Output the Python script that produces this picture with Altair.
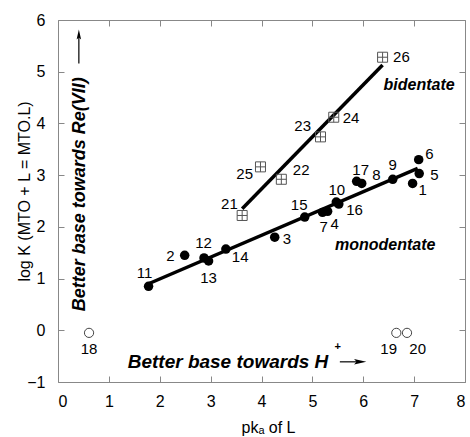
import altair as alt
import pandas as pd

FONT = "Liberation Sans"

# ---- data ----
mono_id = [1, 2, 3, 4, 5, 6, 7, 8, 9, 10, 11, 12, 13, 14, 15, 16, 17]
mono_x = [6.97, 2.49, 4.26, 5.30, 7.10, 7.09, 5.20, 5.97, 6.58, 5.47, 1.78, 2.87, 2.96, 3.30, 4.85, 5.52, 5.87]
mono_y = [2.84, 1.45, 1.80, 2.30, 3.03, 3.30, 2.28, 2.84, 2.92, 2.48, 0.85, 1.40, 1.34, 1.57, 2.19, 2.44, 2.88]
mono_lx = [7.17, 2.21, 4.50, 5.44, 7.40, 7.30, 5.22, 6.26, 6.58, 5.48, 1.70, 2.86, 2.96, 3.58, 4.74, 5.83, 5.95]
mono_ly = [2.71, 1.43, 1.77, 2.06, 3.00, 3.40, 2.00, 3.00, 3.20, 2.72, 1.11, 1.68, 1.02, 1.42, 2.43, 2.32, 3.09]

open_id = [18, 19, 20]
open_x = [0.61, 6.65, 6.86]
open_y = [-0.05, -0.05, -0.05]
open_lx = [0.61, 6.50, 7.07]
open_ly = [-0.37, -0.37, -0.37]

bi_id = [21, 22, 23, 24, 25, 26]
bi_x = [3.62, 4.39, 5.16, 5.42, 3.98, 6.38]
bi_y = [2.22, 2.92, 3.74, 4.12, 3.16, 5.28]
bi_lx = [3.37, 4.78, 4.81, 5.76, 3.67, 6.75]
bi_ly = [2.45, 3.09, 3.95, 4.11, 3.02, 5.28]

mono_fit_x = [1.78, 7.07]
mono_fit_y = [0.90, 3.13]
bi_fit_x = [3.62, 6.38]
bi_fit_y = [2.35, 5.13]

x_ticks = [0, 1, 2, 3, 4, 5, 6, 7, 8]
y_ticks = [-1, 0, 1, 2, 3, 4, 5, 6]

# ---- tables ----
mono = pd.DataFrame({"id": mono_id, "x": mono_x, "y": mono_y, "lx": mono_lx, "ly": mono_ly})
opn = pd.DataFrame({"id": open_id, "x": open_x, "y": open_y, "lx": open_lx, "ly": open_ly})
bi = pd.DataFrame({"id": bi_id, "x": bi_x, "y": bi_y, "lx": bi_lx, "ly": bi_ly})
labels = pd.concat([mono, opn, bi])
fits = pd.DataFrame({
    "x": mono_fit_x + bi_fit_x,
    "y": mono_fit_y + bi_fit_y,
    "g": ["mono", "mono", "bi", "bi"],
})

xs = alt.Scale(domain=[0, 8], nice=False, zero=False)
ys = alt.Scale(domain=[-1, 6], nice=False, zero=False)

x_axis = alt.Axis(values=x_ticks, title="pkₐ of L", orient="bottom", offset=-6, tickSize=6,
                  labelPadding=11, titleX=210, titleY=51, titleBaseline="middle",
                  titleFontSize=16, titleFontWeight="normal")
y_axis = alt.Axis(values=y_ticks, title="log K (MTO + L = MTO.L)", orient="left", offset=-6, tickSize=6,
                  labelPadding=13, titleX=-40, titleY=171, titleBaseline="middle", titleAngle=270,
                  titleFontSize=16, titleFontWeight="normal")


def XN(f="x"):
    return alt.X(f + ":Q", scale=xs, axis=None)


def YN(f="y"):
    return alt.Y(f + ":Q", scale=ys, axis=None)


lines = alt.Chart(fits).mark_line(color="black", strokeWidth=3.5).encode(
    x=alt.X("x:Q", scale=xs,
            axis=alt.Axis(values=x_ticks, orient="top", labels=False, title=None, offset=-6, tickSize=6)),
    y=alt.Y("y:Q", scale=ys,
            axis=alt.Axis(values=y_ticks, orient="right", labels=False, title=None, offset=-6, tickSize=6)),
    detail="g:N",
)

filled = alt.Chart(mono).mark_point(shape="circle", filled=True, color="black", size=90, opacity=1).encode(
    x=alt.X("x:Q", scale=xs, axis=x_axis), y=alt.Y("y:Q", scale=ys, axis=y_axis))
opened = alt.Chart(opn).mark_point(shape="circle", filled=False, color="#444", size=85, strokeWidth=1,
                                   opacity=1).encode(x=XN(), y=YN())
squares = alt.Chart(bi).mark_point(shape="M-1,-1H1V1H-1ZM0,-1V1M-1,0H1", filled=False, color="#555",
                                   size=100, strokeWidth=1, opacity=1).encode(x=XN(), y=YN())
nums = alt.Chart(labels).mark_text(font=FONT, fontSize=15, color="black").encode(
    x=XN("lx"), y=YN("ly"), text="id:N")

# annotations
ann_x = [6.40, 6.43]
ann_y = [4.74, 1.64]
ann_t = ["bidentate", "monodentate"]
ann = pd.DataFrame({"x": ann_x, "y": ann_y, "t": ann_t})
ann_b = alt.Chart(ann.iloc[[0]]).mark_text(font=FONT, fontSize=16, fontWeight="bold", fontStyle="italic",
                                          align="left").encode(x=XN(), y=YN(), text="t:N")
ann_m = alt.Chart(ann.iloc[[1]]).mark_text(font=FONT, fontSize=16, fontWeight="bold", fontStyle="italic",
                                          align="center").encode(x=XN(), y=YN(), text="t:N")
ann_h = alt.Chart(pd.DataFrame({"x": [1.37], "y": [-0.735], "t": ["Better base towards H"]})).mark_text(
    font=FONT, fontSize=19, fontWeight="bold", fontStyle="italic", align="left", baseline="alphabetic"
).encode(x=XN(), y=YN(), text="t:N")
plus = alt.Chart(pd.DataFrame({"x": [5.50], "y": [-0.32], "t": ["+"]})).mark_text(
    font=FONT, fontSize=11, fontWeight="bold", align="center", baseline="middle").encode(
    x=XN(), y=YN(), text="t:N")
vert = alt.Chart(pd.DataFrame({"x": [0.44], "y": [2.63], "t": ["Better base towards Re(VII)"]})).mark_text(
    font=FONT, fontSize=18, fontWeight="bold", fontStyle="italic", angle=270, align="center",
    baseline="middle").encode(x=XN(), y=YN(), text="t:N")

harrow = alt.Chart(pd.DataFrame({"x": [5.54], "x2": [5.95], "y": [-0.61]})).mark_rule(
    color="black", strokeWidth=1.2).encode(x=XN(), x2="x2:Q", y=YN())
hhead = alt.Chart(pd.DataFrame({"x": [5.94], "y": [-0.61]})).mark_point(
    shape="M-1,-0.45L1,0L-1,0.45L-0.6,0Z", filled=True, color="black", size=150, opacity=1).encode(
    x=XN(), y=YN())
varrow = alt.Chart(pd.DataFrame({"x": [0.41], "y": [5.16], "y2": [5.72]})).mark_rule(
    color="black", strokeWidth=1.2).encode(x=XN(), y=YN(), y2="y2:Q")
vhead = alt.Chart(pd.DataFrame({"x": [0.41], "y": [5.72]})).mark_point(
    shape="M-0.45,1L0,-1L0.45,1L0,0.6Z", filled=True, color="black", size=100, opacity=1).encode(
    x=XN(), y=YN())

chart = alt.layer(
    filled, lines, opened, squares, nums, ann_b, ann_m, ann_h, plus, vert, harrow, hhead, varrow, vhead
).resolve_axis(x="independent", y="independent").properties(
    width=407, height=362,
    autosize=alt.AutoSizeParams(type="none"),
    padding={"left": 58, "top": 20, "right": 5, "bottom": 55},
).configure_view(stroke="#888", strokeWidth=1).configure_axis(
    domain=False, grid=False, tickColor="#888", tickWidth=1,
    labelFont=FONT, labelFontSize=16, labelColor="black",
    titleFont=FONT, titleColor="black",
)

chart.save("out.html", embed_options={"renderer": "svg", "actions": False})
